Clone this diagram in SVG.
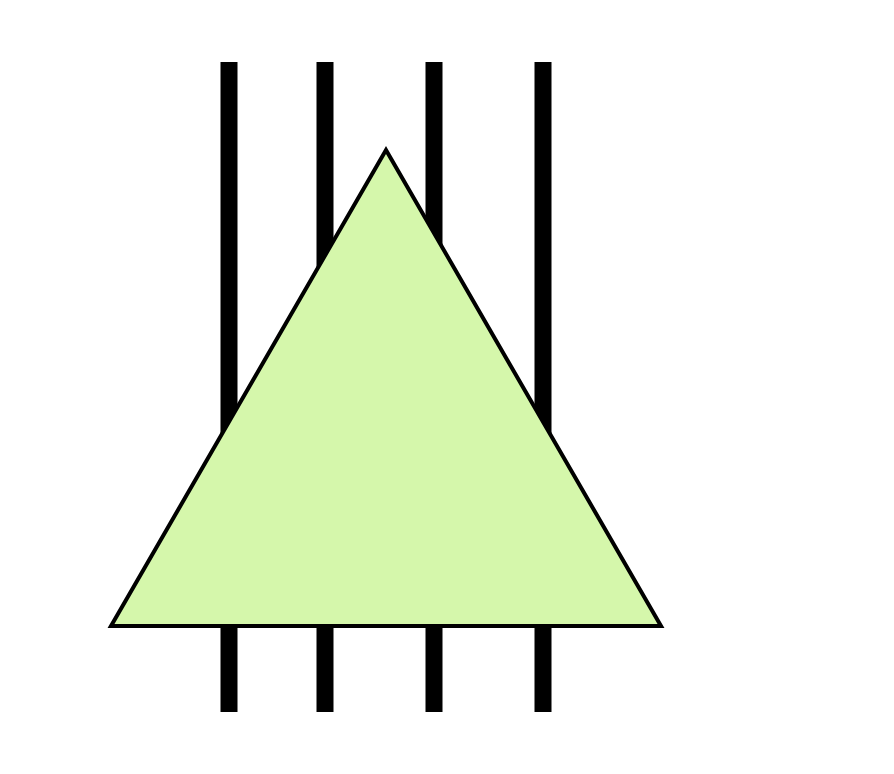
<svg xmlns="http://www.w3.org/2000/svg" width="894" height="774" viewBox="0 0 894 774">
<style>
.bar{stroke:#000;stroke-width:17;fill:none}
.tri{fill:#d5f7ab;stroke:#000;stroke-width:4;stroke-linejoin:miter}
</style>
<rect width="894" height="774" fill="#fff"/>
<g id="connectors">
<line class="bar" x1="229" y1="62" x2="229" y2="712"/>
<line class="bar" x1="325" y1="62" x2="325" y2="712"/>
<line class="bar" x1="434" y1="62" x2="434" y2="712"/>
<line class="bar" x1="543" y1="62" x2="543" y2="712"/>
</g>
<g id="triangle">
<polygon class="tri" points="386,150 661,626 111,626"/>
</g>
</svg>
